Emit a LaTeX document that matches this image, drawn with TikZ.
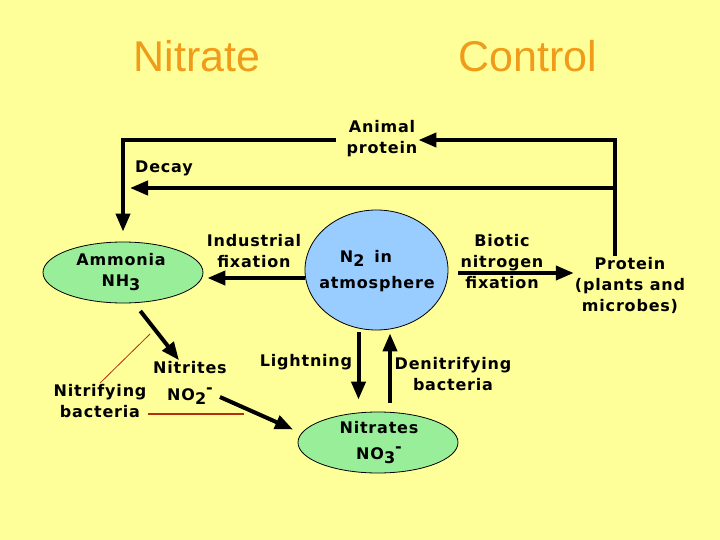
\documentclass[tikz,border=0pt]{standalone}
\usepackage{fontspec}
\usetikzlibrary{arrows.meta,shapes.geometric}
\newfontfamily\diagfont[LetterSpace=5]{DejaVu Sans}
\newfontfamily\titlefont{Liberation Sans}
\definecolor{slidebg}{RGB}{255,255,153}
\definecolor{titleorange}{RGB}{240,155,25}
\definecolor{poolgreen}{RGB}{153,238,153}
\definecolor{airblue}{RGB}{153,204,255}
\definecolor{linkred}{RGB}{176,48,16}
\newcommand{\subtxt}[1]{\raisebox{-4pt}{#1}}
\newcommand{\suptxt}[1]{\raisebox{7pt}{#1}}

\begin{document}
\begin{tikzpicture}[x=1pt, y=-1pt,
  lbl/.style={font=\diagfont\bfseries\fontsize{16}{21}\selectfont, align=center, inner sep=1pt},
  ttl/.style={font=\titlefont\fontsize{43}{43}\selectfont, text=titleorange, anchor=base},
  pool/.style={ellipse, draw, line width=0.8pt, fill=poolgreen, minimum width=160, minimum height=61, inner sep=0pt},
  air/.style={ellipse, draw, line width=0.8pt, fill=airblue, minimum width=143, minimum height=120, inner sep=0pt},
  flow/.style={line width=4pt, -{Triangle[length=18pt, width=14pt]}},
  linkline/.style={draw=linkred, line width=1pt}]
% slide background
\fill[slidebg] (0,0) rectangle (720,540);
\useasboundingbox (0,0) rectangle (720,540);
\node[ttl] (ttlleft) at (197,72) {Nitrate};
\node[ttl] (ttlright) at (527.5,72) {Control};
% pools
\node[pool] (ammonia) at (123,272.5) {};
\node[air] (atmos) at (376.5,270) {};
\node[pool] (nitrates) at (378,442.5) {};
\node[lbl] (ammoniatext) at (121,272) {Ammonia\\NH\subtxt{3}};
\node[lbl] (atmostext) at (377,271) {N\subtxt{2}\hspace{10pt}in\hspace*{22pt}\\[5pt]atmosphere};
\node[lbl] (nitratestext) at (379,443) {Nitrates\\[5pt]NO\subtxt{3}\suptxt{-}};
% labels
\node[lbl] (animal) at (382,139) {Animal\\protein};
\node[lbl] (decay) at (164,168) {Decay};
\node[lbl] (industrial) at (254,251) {Industrial\\fixation};
\node[lbl] (biotic) at (502,262) {Biotic\\nitrogen\\fixation};
\node[lbl] (protein) at (630,285) {Protein\\(plants and\\microbes)};
\node[lbl] (nitrites) at (190,383) {Nitrites\\[6pt]NO\subtxt{2}\suptxt{-}};
\node[lbl] (nitrifying) at (100,401) {Nitrifying\\bacteria};
\node[lbl] (lightning) at (306,362.5) {Lightning};
\node[lbl] (denitrifying) at (453,374) {Denitrifying\\bacteria};
% bends and free ends
\coordinate (upcorner) at (615,140);
\coordinate (leftcorner) at (123,140);
\coordinate (decayfork) at (615,188);
\coordinate (decayend) at (130,188);
\coordinate (nitrifytop) at (150,334);
\coordinate (redend) at (244,414);
% feeding loop
\draw[flow, line join=miter] (protein.north -| upcorner) -- (upcorner) -- (animal.east |- upcorner);
\draw[flow, line join=miter, shorten <=10pt, shorten >=10pt] (animal.west |- leftcorner) -- (leftcorner) -- (ammonia.north -| leftcorner);
\draw[flow] (decayfork) -- (decayend);
% fixation
\draw[flow, shorten >=4pt] ([yshift=-8pt]atmos.west) -- ([yshift=-8pt]atmos.west -| ammonia.east);
\draw[flow, shorten <=10pt] ([yshift=-3pt]atmos.east) -- ([yshift=-3pt]atmos.east -| protein.west);
% nitrification
\draw[flow, shorten <=10pt] (ammonia.290) -- ([xshift=-11pt]nitrites.north);
\draw[flow, shorten >=5pt] ([shift={(-8pt,-14pt)}]nitrites.east) -- ([yshift=11pt]nitrates.west);
\draw[linkline, line width=0.8pt] (nitrifying.north) -- (nitrifytop);
\draw[linkline, line width=1.6pt] (nitrifying.east |- redend) -- (redend);
% lightning and denitrification
\draw[flow, shorten <=2pt, shorten >=12pt] ([xshift=-18pt]atmos.south) -- ([xshift=-18pt]atmos.south |- nitrates.north);
\draw[flow, shorten <=9pt, shorten >=3pt] ([xshift=12pt]nitrates.north) -- ([xshift=12pt]nitrates.north |- atmos.south);
\end{tikzpicture}
\end{document}
